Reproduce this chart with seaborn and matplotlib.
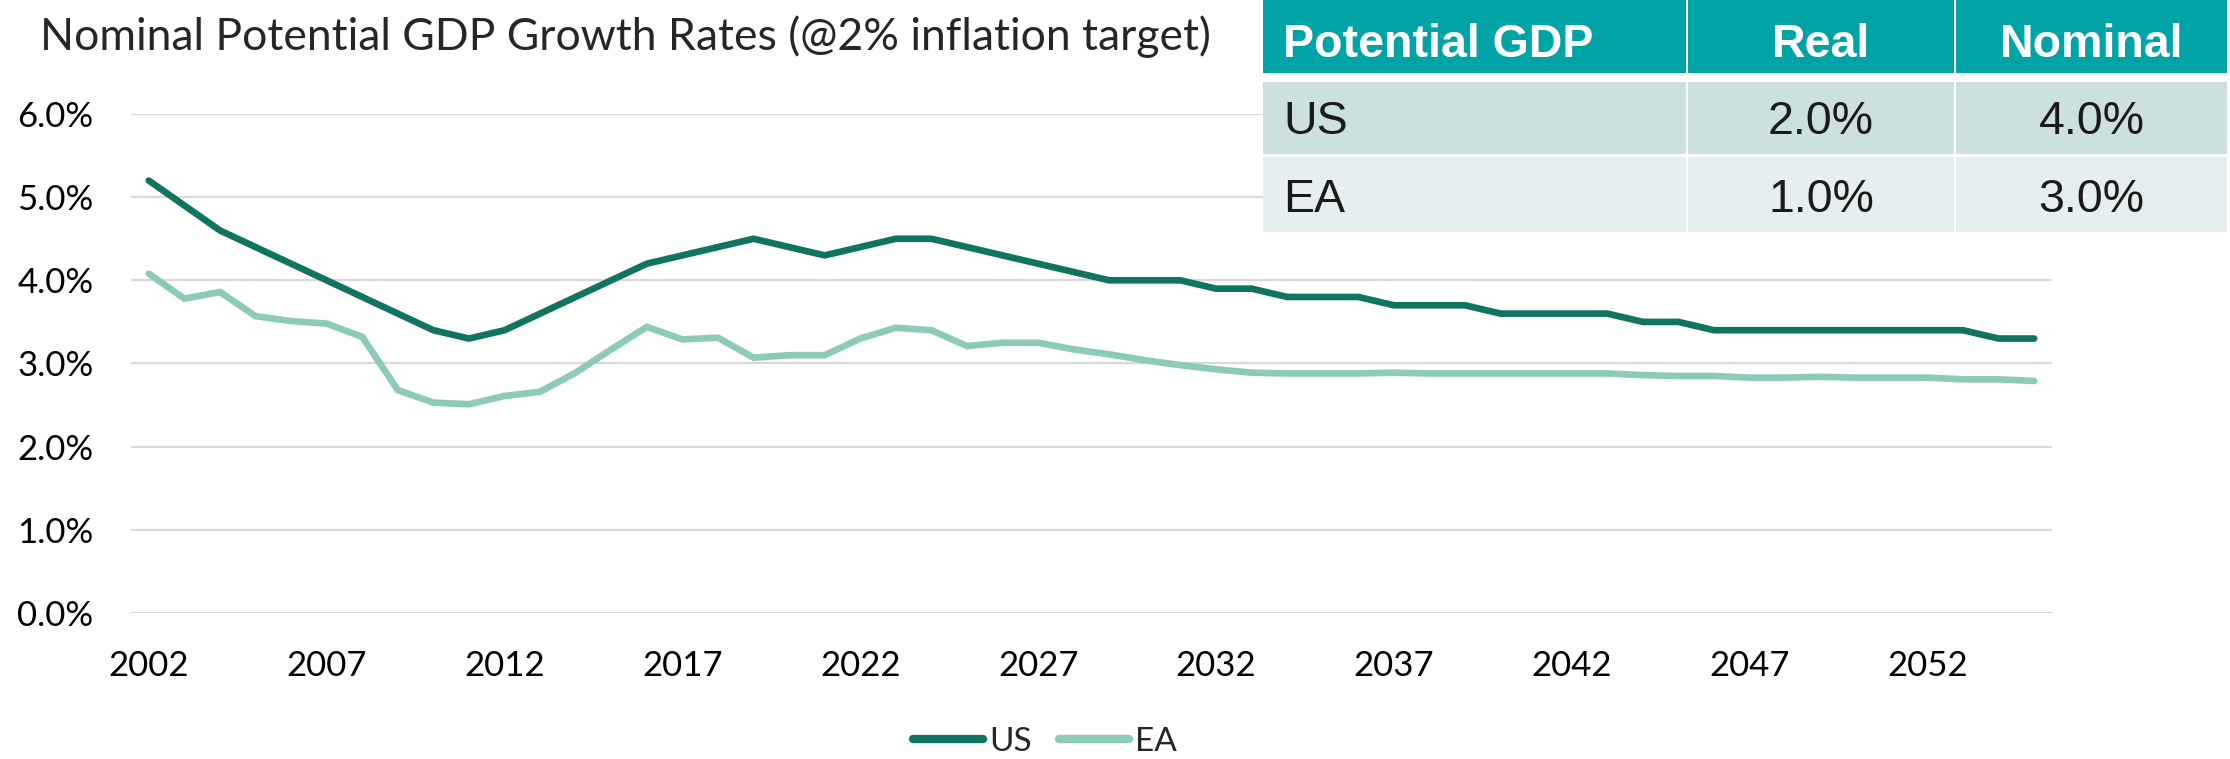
import numpy as np
import pandas as pd
import matplotlib
matplotlib.use('Agg')
import matplotlib.pyplot as plt
import seaborn as sns
from matplotlib.patches import Rectangle
from matplotlib.ticker import FuncFormatter

# --- data ---
years = list(range(2002, 2056))
us = [5.2, 4.9, 4.6, 4.4, 4.2, 4.0, 3.8, 3.6, 3.4, 3.3,
      3.4, 3.6, 3.8, 4.0, 4.2, 4.3, 4.4, 4.5, 4.4, 4.3,
      4.4, 4.5, 4.5, 4.4, 4.3, 4.2, 4.1, 4.0, 4.0, 4.0,
      3.9, 3.9, 3.8, 3.8, 3.8, 3.7, 3.7, 3.7, 3.6, 3.6,
      3.6, 3.6, 3.5, 3.5, 3.4, 3.4, 3.4, 3.4, 3.4, 3.4,
      3.4, 3.4, 3.3, 3.3]
ea = [4.08, 3.78, 3.86, 3.57, 3.51, 3.48, 3.32, 2.68, 2.53, 2.51,
      2.61, 2.66, 2.89, 3.17, 3.44, 3.29, 3.31, 3.07, 3.10, 3.10,
      3.30, 3.43, 3.40, 3.21, 3.25, 3.25, 3.17, 3.11, 3.04, 2.98,
      2.93, 2.89, 2.88, 2.88, 2.88, 2.89, 2.88, 2.88, 2.88, 2.88,
      2.88, 2.88, 2.86, 2.85, 2.85, 2.83, 2.83, 2.84, 2.83, 2.83,
      2.83, 2.81, 2.81, 2.79]
series_names = ['US', 'EA']
tick_years = list(range(2002, 2053, 5))

table_header = ['Potential GDP', 'Real', 'Nominal']
table_regions = ['US', 'EA']
table_real = [2.0, 1.0]
table_nominal = [4.0, 3.0]

df = pd.DataFrame({
    'Year': years * 2,
    'Rate': us + ea,
    'Series': ['US'] * len(years) + ['EA'] * len(years),
})

sns.set_style('white')
plt.rcParams['font.family'] = ['Lato', 'DejaVu Sans']

W, H = 2230, 759
fig = plt.figure(figsize=(W / 100, H / 100), dpi=100)
ax = fig.add_axes([131 / W, 1 - 613 / H, (2052 - 131) / W, (613 - 114) / H])

palette = {'US': '#117463', 'EA': '#8ccbb9'}
sns.lineplot(data=df, x='Year', y='Rate', hue='Series', hue_order=series_names,
             palette=palette, linewidth=4.8, ax=ax, legend=False,
             solid_capstyle='round', solid_joinstyle='miter')

ax.set_xlim(2001.5, 2055.5)
ax.set_ylim(0, 6)
ax.set_yticks(np.arange(0, 6.01, 1))
ax.yaxis.set_major_formatter(FuncFormatter(lambda v, _: f'{v:.1f}%'))
ax.set_xticks(tick_years)
ax.set_xlabel('')
ax.set_ylabel('')
ax.grid(axis='y', color='#d9d9d9', linewidth=1.6)
ax.set_axisbelow(True)
for s in ax.spines.values():
    s.set_visible(False)
ax.tick_params(axis='both', length=0, labelsize=25, colors='black')
ax.tick_params(axis='y', pad=27)
ax.tick_params(axis='x', pad=27)

fig.text(40 / W, 1 - 50 / H, 'Nominal Potential GDP Growth Rates (@2% inflation target)',
         fontsize=32, va='baseline', ha='left')

# legend
handles = [plt.Line2D([], [], color=palette[n], linewidth=6, solid_capstyle='round') for n in series_names]
fig.legend(handles, series_names, loc='center', bbox_to_anchor=(1045 / W, 1 - 742 / H),
           ncol=2, frameon=False, fontsize=24, handlelength=2.1, handletextpad=0.2,
           columnspacing=0.8)

# table overlay
tl, tr, tb = 1263, 2227, 232
tax = fig.add_axes([tl / W, 1 - tb / H, (tr - tl) / W, tb / H])
tax.set_xlim(0, tr - tl)
tax.set_ylim(tb, 0)
tax.axis('off')
tax.add_patch(Rectangle((0, 0), tr - tl, tb, color='white', zorder=0))
col_edges = [(0, 423), (425, 691), (693, tr - tl)]
row_edges = [(0, 73), (81.5, 154), (156.5, tb)]
row_colors = ['#00a4a6', '#cce0e0', '#e5efef']
for r, (y0, y1) in enumerate(row_edges):
    for (x0, x1) in col_edges:
        tax.add_patch(Rectangle((x0, y0), x1 - x0, y1 - y0, color=row_colors[r], zorder=1, linewidth=0))

tfont = ['Liberation Sans', 'DejaVu Sans']
tax.text(20, 57, table_header[0], color='white', fontsize=33.5, fontweight='bold',
         family=tfont, ha='left', va='baseline')
for i, h in enumerate(table_header[1:]):
    x0, x1 = col_edges[i + 1]
    tax.text((x0 + x1) / 2, 57, h, color='white', fontsize=33.5, fontweight='bold',
             family=tfont, ha='center', va='baseline')
baselines = [134, 212]
for i, name in enumerate(table_regions):
    tax.text(20, baselines[i], name, color='#1a1a1a', fontsize=33.5, family=tfont,
             ha='left', va='baseline')
    for j, val in enumerate([table_real[i], table_nominal[i]]):
        x0, x1 = col_edges[j + 1]
        tax.text((x0 + x1) / 2, baselines[i], f'{val:.1f}%', color='#1a1a1a', fontsize=33.5,
                 family=tfont, ha='center', va='baseline')

fig.savefig('out.png', dpi=100)
